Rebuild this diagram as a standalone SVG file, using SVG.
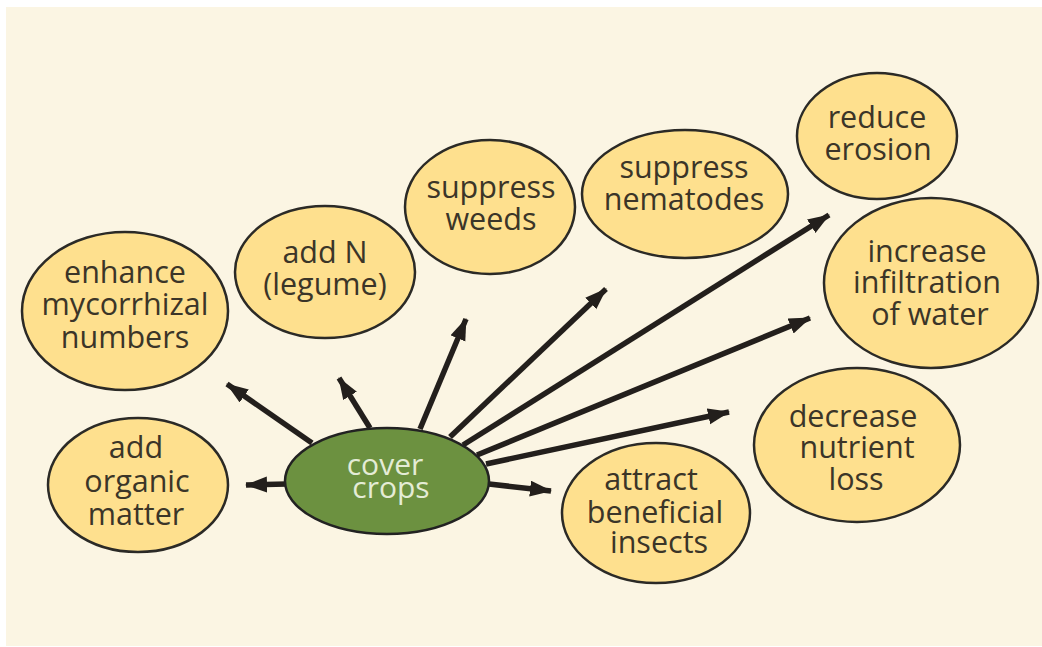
<svg xmlns="http://www.w3.org/2000/svg" width="1042" height="647" viewBox="0 0 1042 647">
<style>
.bg{fill:#FBF5E3}
.n{fill:#FEE08E;stroke:#2b2a26;stroke-width:2.5}
.c{fill:#6C9140;stroke:#222;stroke-width:2.5}
.t{font-family:"Open Sans","Noto Sans",sans-serif;font-size:30.5px;fill:#3b3528;text-anchor:middle}
.ct{font-family:"Open Sans","Noto Sans",sans-serif;font-size:30px;fill:#E4ECD6;text-anchor:middle}
.e{stroke:#231f1c;stroke-width:5.5;fill:none;marker-end:url(#ah)}
</style>
<defs>
<marker id="ah" markerUnits="userSpaceOnUse" markerWidth="24" markerHeight="18" refX="21" refY="8" orient="auto">
<path d="M0,0 L22,8 L0,16 z" fill="#231f1c"/>
</marker>
</defs>
<rect x="0" y="0" width="1042" height="647" fill="#ffffff"/>
<rect class="bg" x="6" y="7" width="1036" height="639"/>
<g id="connectors">
<line class="e" x1="312" y1="443" x2="227" y2="384"/>
<line class="e" x1="370" y1="428" x2="339" y2="378"/>
<line class="e" x1="420" y1="429" x2="466" y2="319"/>
<line class="e" x1="287" y1="484" x2="246" y2="485"/>
<line class="e" x1="450" y1="437" x2="606" y2="289"/>
<line class="e" x1="463" y1="445" x2="829" y2="215"/>
<line class="e" x1="477" y1="455" x2="810" y2="318"/>
<line class="e" x1="486" y1="464" x2="729" y2="412"/>
<line class="e" x1="489" y1="484" x2="551" y2="491"/>
</g>
<g id="cover-crops">
<ellipse class="c" cx="387" cy="481" rx="102" ry="53"/>
<text class="ct" x="385" y="475">cover</text>
<text class="ct" x="391" y="498">crops</text>
</g>
<g id="enhance-mycorrhizal">
<ellipse class="n" cx="125" cy="311" rx="103" ry="79"/>
<text class="t" x="125" y="283">enhance</text>
<text class="t" x="125" y="315">mycorrhizal</text>
<text class="t" x="125" y="348">numbers</text>
</g>
<g id="add-organic-matter">
<ellipse class="n" cx="138" cy="485" rx="90" ry="67"/>
<text class="t" x="136" y="458">add</text>
<text class="t" x="137" y="492">organic</text>
<text class="t" x="136" y="525">matter</text>
</g>
<g id="add-n">
<ellipse class="n" cx="325" cy="272" rx="90" ry="66"/>
<text class="t" x="325" y="263">add N</text>
<text class="t" x="325" y="295">(legume)</text>
</g>
<g id="suppress-weeds">
<ellipse class="n" cx="490" cy="207" rx="85" ry="67"/>
<text class="t" x="491" y="198">suppress</text>
<text class="t" x="491" y="230">weeds</text>
</g>
<g id="suppress-nematodes">
<ellipse class="n" cx="685" cy="194" rx="103" ry="64"/>
<text class="t" x="684" y="178">suppress</text>
<text class="t" x="684" y="210">nematodes</text>
</g>
<g id="reduce-erosion">
<ellipse class="n" cx="877" cy="136" rx="80" ry="63"/>
<text class="t" x="877" y="128">reduce</text>
<text class="t" x="878" y="160">erosion</text>
</g>
<g id="increase-infiltration">
<ellipse class="n" cx="931" cy="283" rx="107" ry="85"/>
<text class="t" x="927" y="262">increase</text>
<text class="t" x="927" y="293">infiltration</text>
<text class="t" x="930" y="325">of water</text>
</g>
<g id="decrease-nutrient-loss">
<ellipse class="n" cx="857" cy="445" rx="103" ry="77"/>
<text class="t" x="853" y="427">decrease</text>
<text class="t" x="857" y="458">nutrient</text>
<text class="t" x="856" y="490">loss</text>
</g>
<g id="attract-beneficial-insects">
<ellipse class="n" cx="656" cy="513" rx="94" ry="70"/>
<text class="t" x="651" y="490">attract</text>
<text class="t" x="655" y="523">beneficial</text>
<text class="t" x="659" y="553">insects</text>
</g>
</svg>
